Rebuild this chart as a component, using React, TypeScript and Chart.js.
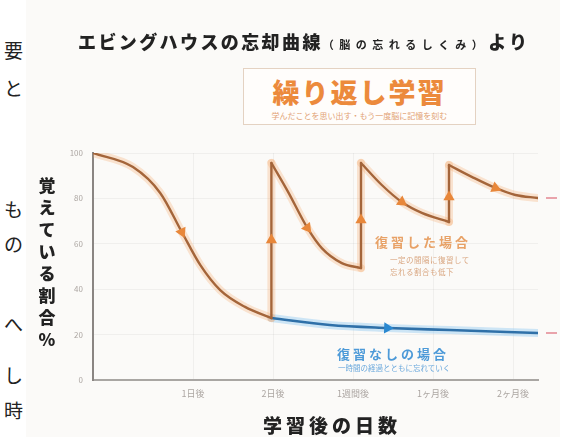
import React, { useEffect, useRef } from "react";
import { Chart, registerables } from "chart.js";

Chart.register(...registerables);

type P = { x: number; y: number };

// x axis ticks
const tickPositions = [1.25, 2.25, 3.25, 4.25, 5.25];
const tickLabels = ["1日後", "2日後", "1週間後", "1ヶ月後", "2ヶ月後"];

// forgetting curve before first review
const curveFirst: P[] = [
  { x: 0, y: 100 }, { x: 0.5, y: 93.8 }, { x: 0.84, y: 82.4 }, { x: 1.11, y: 65.2 },
  { x: 1.34, y: 50.7 }, { x: 1.59, y: 39.6 }, { x: 1.9, y: 32.2 }, { x: 2.23, y: 27.3 },
];
// curves after each review
const curveReview1: P[] = [
  { x: 2.23, y: 95.6 }, { x: 2.44, y: 82.8 }, { x: 2.68, y: 67 }, { x: 2.86, y: 58.1 },
  { x: 3.11, y: 51.5 }, { x: 3.35, y: 49.3 },
];
const curveReview2: P[] = [
  { x: 3.35, y: 95.6 }, { x: 3.61, y: 85.9 }, { x: 3.86, y: 78.4 }, { x: 4.11, y: 73.6 },
  { x: 4.45, y: 69.6 },
];
const curveReview3: P[] = [
  { x: 4.45, y: 94.7 }, { x: 4.74, y: 89.4 }, { x: 5.03, y: 84.6 }, { x: 5.28, y: 81.5 },
  { x: 5.56, y: 80.2 },
];
// review jumps
const reviewX = [2.23, 3.35, 4.45];
const reviewFrom = [27.3, 49.3, 69.6];
const reviewTo = [95.6, 95.6, 94.7];
// no review
const curveNoReview: P[] = [
  { x: 2.23, y: 27.3 }, { x: 2.96, y: 24.2 }, { x: 3.68, y: 22.9 }, { x: 4.46, y: 22 },
  { x: 5.56, y: 20.7 },
];
// arrow markers
const arrowX = [1.11, 2.23, 2.68, 3.35, 3.86, 4.45, 5.03, 2.19, 3.36, 4.55, 3.68];
const arrowY = [65.2, 61.7, 67, 70.5, 78.4, 80.6, 84.6, 105.7, 105.7, 105.7, 22.9];
const arrowAngle = [155, 0, 143, 0, 125, 0, 112, 180, 180, 180, 92];
const arrowColor = [
  "#e8873a", "#e8873a", "#e8873a", "#e8873a", "#e8873a", "#e8873a", "#e8873a",
  "#e07b30", "#e07b30", "#e07b30", "#2a88d0",
];

const ORANGE_LINE = "#a4653a";
const ORANGE_GLOW = "rgba(245,160,90,0.26)";
const BLUE_LINE = "#2f70a8";
const BLUE_GLOW = "rgba(120,190,240,0.35)";

function lineSet(data: P[], color: string, width: number, order: number, curved: boolean) {
  return {
    data,
    borderColor: color,
    borderWidth: width,
    pointRadius: 0,
    fill: false,
    tension: curved ? 0.4 : 0,
    cubicInterpolationMode: curved ? "monotone" : "default",
    borderCapStyle: "round",
    borderJoinStyle: "round",
    order,
  };
}

function buildDatasets() {
  const ds: any[] = [];
  [curveFirst, curveReview1, curveReview2, curveReview3].forEach((seg) => {
    ds.push(lineSet(seg, ORANGE_GLOW, 8, 3, true));
    ds.push(lineSet(seg, ORANGE_LINE, 2.4, 1, true));
  });
  reviewX.forEach((x, i) => {
    const seg = [{ x, y: reviewFrom[i] }, { x, y: reviewTo[i] }];
    ds.push(lineSet(seg, ORANGE_GLOW, 8, 3, false));
    ds.push(lineSet(seg, ORANGE_LINE, 2.4, 1, false));
  });
  ds.push(lineSet(curveNoReview, BLUE_GLOW, 8, 3, true));
  ds.push(lineSet(curveNoReview, BLUE_LINE, 2.6, 1, true));
  ds.push({
    data: arrowX.map((x, i) => ({ x, y: arrowY[i] })),
    showLine: false,
    pointStyle: "triangle",
    pointRadius: 6.5,
    pointRotation: arrowAngle,
    pointBackgroundColor: arrowColor,
    pointBorderColor: arrowColor,
    pointBorderWidth: 0,
    clip: false,
    order: 0,
  });
  return ds;
}

const FONT = "'Noto Sans CJK JP', 'Noto Sans', sans-serif";

const abs = (l: number, t: number, extra: React.CSSProperties = {}): React.CSSProperties => ({
  position: "absolute",
  left: l,
  top: t,
  whiteSpace: "nowrap",
  fontFamily: FONT,
  ...extra,
});

const sideChars: [string, number][] = [
  ["要", 36], ["と", 74], ["も", 195], ["の", 230], ["へ", 310], ["し", 361], ["時", 396],
];

export default function App() {
  const ref = useRef<HTMLCanvasElement | null>(null);

  useEffect(() => {
    if (!ref.current) return;
    const chart = new Chart(ref.current, {
      type: "line",
      data: { datasets: buildDatasets() },
      options: {
        animation: false,
        responsive: false,
        events: [],
        layout: { padding: { left: 68, top: 153, right: 43, bottom: 32 } },
        plugins: { legend: { display: false }, tooltip: { enabled: false } },
        scales: {
          x: {
            type: "linear",
            min: 0,
            max: 5.5625,
            afterFit: (s: any) => { s.height = 25; },
            afterBuildTicks: (s: any) => { s.ticks = tickPositions.map((v) => ({ value: v })); },
            ticks: {
              callback: (_v: any, i: number) => tickLabels[i],
              font: { size: 9, family: FONT },
              color: "#aca6a2",
              padding: 8,
              maxRotation: 0,
            },
            grid: { color: "rgba(0,0,0,0.045)", drawTicks: false },
            border: { color: "#a9a6a3", width: 2 },
          },
          y: {
            min: 0,
            max: 100,
            afterFit: (s: any) => { s.width = 25; },
            ticks: {
              stepSize: 20,
              font: { size: 8, family: FONT },
              color: "#aca6a2",
              padding: 10,
            },
            grid: { color: "rgba(0,0,0,0.045)", drawTicks: false },
            border: { color: "#8a8582", width: 2 },
          },
        },
      } as any,
    });
    return () => chart.destroy();
  }, []);

  return (
    <div
      style={{
        position: "fixed",
        left: 0,
        top: 0,
        width: 581,
        height: 437,
        overflow: "hidden",
        background: "#ffffff",
      }}
    >
      <div style={{ position: "absolute", left: 26, top: 0, width: 534, height: 437, background: "#fbfaf8" }} />
      {sideChars.map(([c, t]) => (
        <div key={t} style={abs(1, t, { fontSize: 19, color: "#222", width: 22, textAlign: "right" })}>{c}</div>
      ))}
      <canvas ref={ref} width={581} height={437} style={{ position: "absolute", left: 0, top: 0 }} />

      <div style={abs(78, 28, { width: 482, overflow: "hidden", color: "#222", fontWeight: 900 })}>
        <span style={{ fontSize: 18, letterSpacing: 2.4 }}>エビングハウスの忘却曲線</span>
        <span style={{ fontSize: 11, letterSpacing: 5.5, fontWeight: 700 }}>（脳の忘れるしくみ）</span>
        <span style={{ fontSize: 18, letterSpacing: 3 }}>より</span>
      </div>

      <div
        style={abs(243, 68, {
          width: 231,
          height: 55,
          border: "1.5px solid #e4d2c2",
          background: "#fffdfb",
          textAlign: "center",
        })}
      >
        <div style={{ fontSize: 27, lineHeight: "30px", marginTop: 8, fontWeight: 900, color: "#ec8a3c", letterSpacing: 2 }}>
          繰り返し学習
        </div>
        <div style={{ fontSize: 8, lineHeight: "10px", marginTop: 4, color: "#e2a274" }}>
          学んだことを思い出す・もう一度脳に記憶を刻む
        </div>
      </div>

      <div style={abs(375, 232, { fontSize: 13, fontWeight: 700, color: "#e8a267", letterSpacing: 3 })}>復習した場合</div>
      <div style={abs(390, 254, { fontSize: 7.5, lineHeight: "12px", color: "#d9a680", letterSpacing: 0.5 })}>
        一定の間隔に復習して
        <br />
        忘れる割合も低下
      </div>

      <div style={abs(337, 344, { fontSize: 13, fontWeight: 700, color: "#4d9ad8", letterSpacing: 3 })}>復習なしの場合</div>
      <div style={abs(338, 362, { fontSize: 7.5, color: "#6aa8dc" })}>一時間の経過とともに忘れていく</div>

      <div style={abs(36, 174, { width: 22, textAlign: "center", fontSize: 17, lineHeight: "22px", fontWeight: 900, color: "#222", whiteSpace: "normal" })}>
        {"覚えている割合%".split("").map((c, i) => (
          <div key={i}>{c}</div>
        ))}
      </div>

      <div style={abs(263, 411, { fontSize: 19, fontWeight: 900, color: "#222", letterSpacing: 4 })}>学習後の日数</div>

      <div style={{ position: "absolute", left: 546, top: 197, width: 11, height: 2, background: "#e9a3ab" }} />
      <div style={{ position: "absolute", left: 546, top: 332, width: 11, height: 2, background: "#e9a3ab" }} />
    </div>
  );
}
